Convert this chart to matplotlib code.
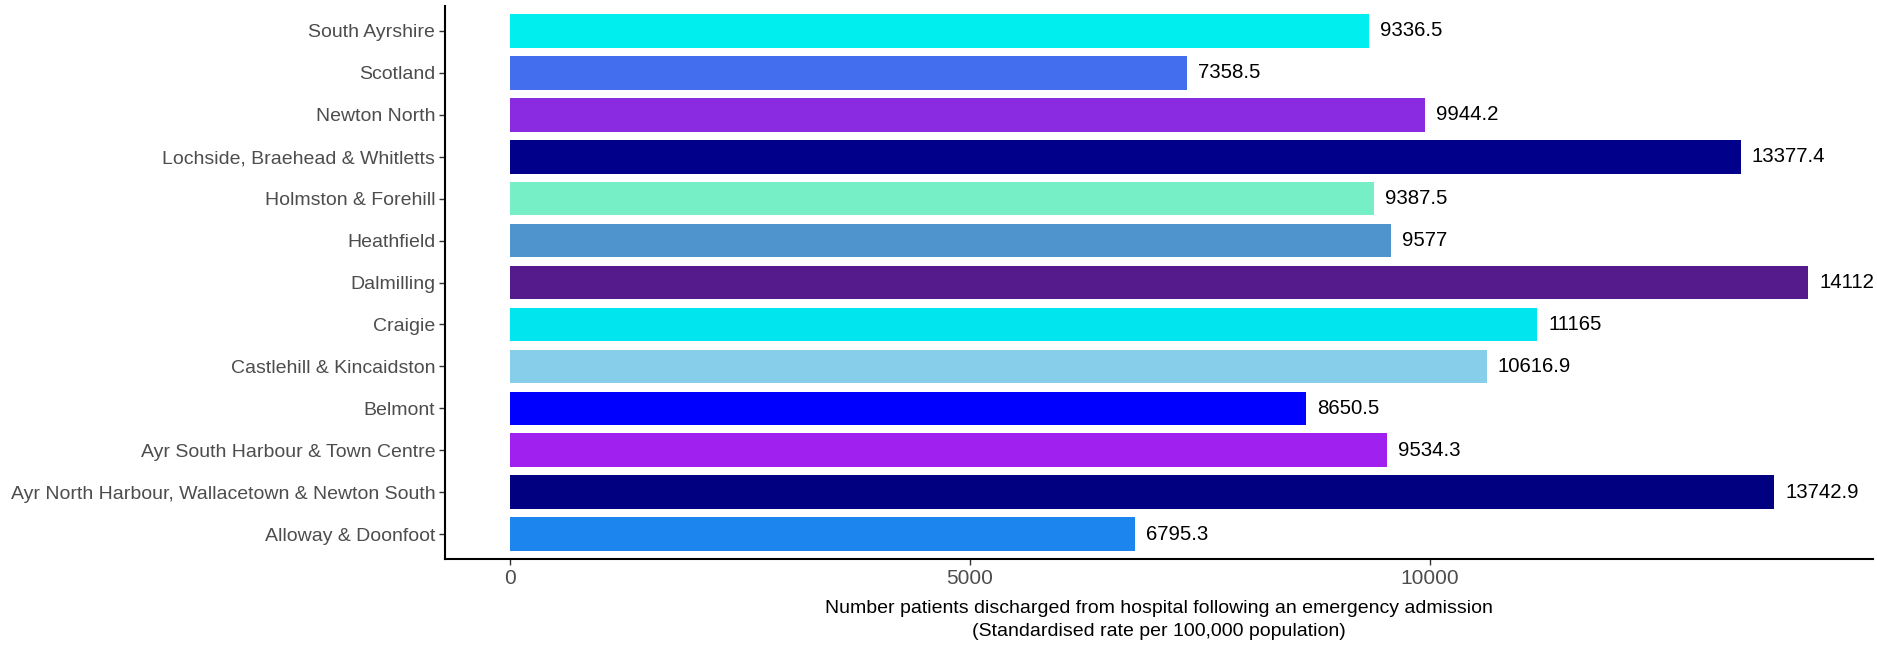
import matplotlib
matplotlib.use("Agg")
import matplotlib.pyplot as plt

categories = [
    "Alloway & Doonfoot",
    "Ayr North Harbour, Wallacetown & Newton South",
    "Ayr South Harbour & Town Centre",
    "Belmont",
    "Castlehill & Kincaidston",
    "Craigie",
    "Dalmilling",
    "Heathfield",
    "Holmston & Forehill",
    "Lochside, Braehead & Whitletts",
    "Newton North",
    "Scotland",
    "South Ayrshire",
]
values = [6795.3, 13742.9, 9534.3, 8650.5, 10616.9, 11165, 14112, 9577, 9387.5,
          13377.4, 9944.2, 7358.5, 9336.5]
value_labels = ["6795.3", "13742.9", "9534.3", "8650.5", "10616.9", "11165", "14112",
                "9577", "9387.5", "13377.4", "9944.2", "7358.5", "9336.5"]
colors = ["#1C86EE", "#000080", "#A020F0", "#0000FF", "#87CEEB", "#00E5EE", "#551A8B",
          "#4F94CD", "#76EEC6", "#00008B", "#8A2BE2", "#436EEE", "#00EEEE"]
x_ticks = [0, 5000, 10000]
x_title = ("Number patients discharged from hospital following an emergency admission\n"
           "(Standardised rate per 100,000 population)")

plt.rcParams['font.family'] = ['Liberation Sans', 'DejaVu Sans']

fig = plt.figure(figsize=(18.77, 6.48), dpi=100)
ax = fig.add_axes([0.237, 0.137, 0.761, 0.854])

ypos = list(range(len(categories)))
ax.barh(ypos, values, height=0.8, color=colors)
for y, v, lab in zip(ypos, values, value_labels):
    ax.annotate(lab, (v, y), xytext=(8, 0), textcoords="offset points",
                va="center", ha="left", fontsize=14.7, color="black")

ax.set_yticks(ypos)
ax.set_yticklabels(categories, fontsize=14, color="#4D4D4D")
ax.set_xticks(x_ticks)
ax.set_xticklabels([str(t) for t in x_ticks], fontsize=15, color="#4D4D4D")
ax.set_xlim(-706, 14818)
ax.set_ylim(-0.6, len(categories) - 0.4)
ax.set_xlabel(x_title, fontsize=14, color="black", labelpad=9, linespacing=1.4)

for s in ["top", "right"]:
    ax.spines[s].set_visible(False)
for s in ["left", "bottom"]:
    ax.spines[s].set_linewidth(1.5)
    ax.spines[s].set_color("black")
ax.tick_params(axis="both", length=4, width=1, color="#333333", pad=3)

fig.savefig("out.png", dpi=100)
